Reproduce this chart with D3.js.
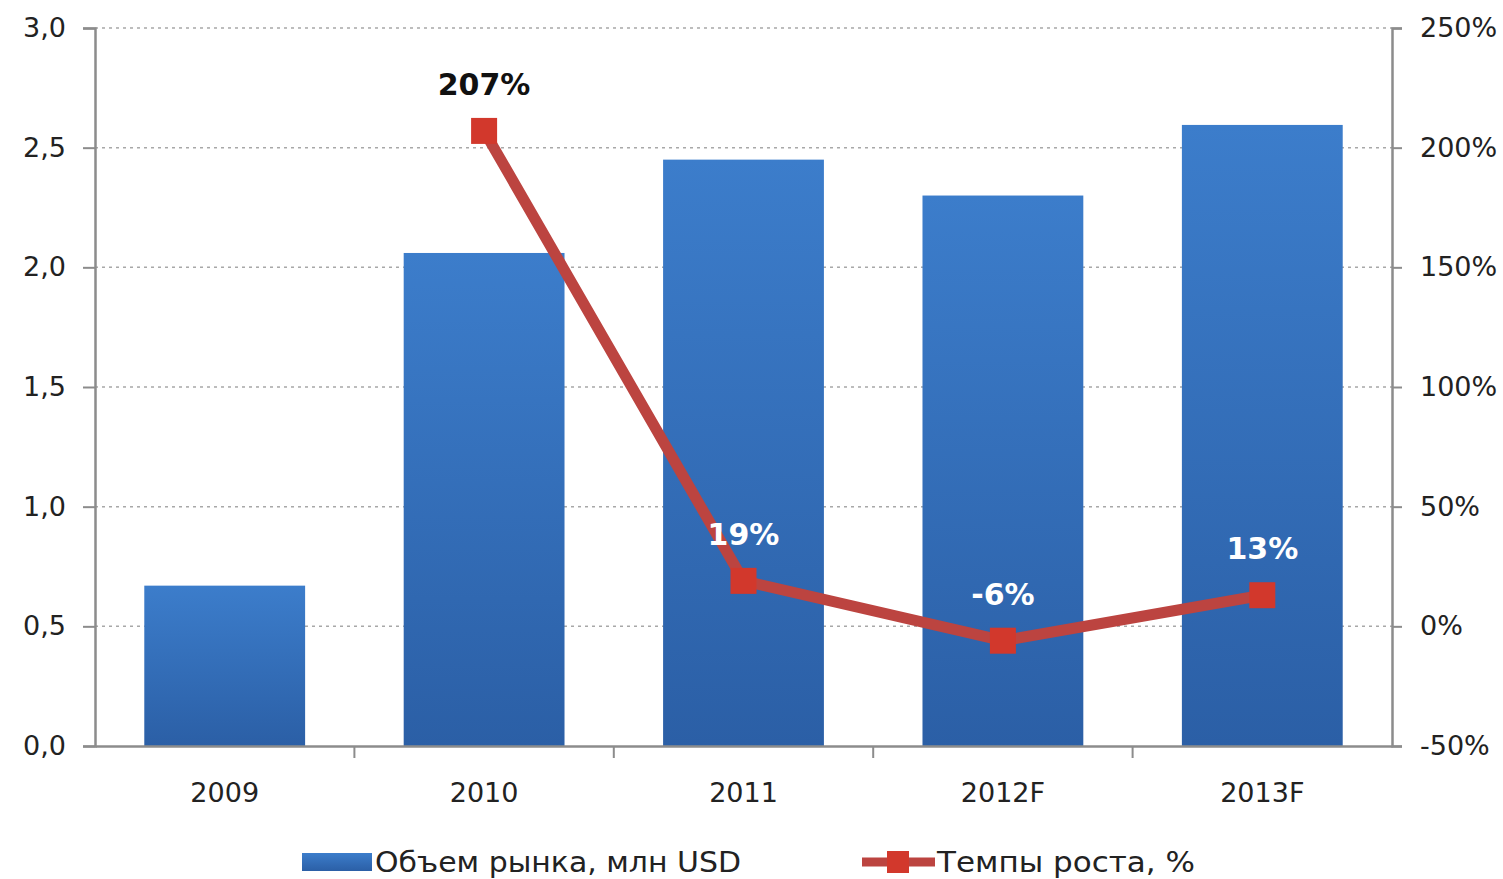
<!DOCTYPE html>
<html>
<head>
<meta charset="utf-8">
<script src="https://cdn.jsdelivr.net/npm/d3@7"></script>
<style>
  body { margin: 0; background: #fff; }
  text { font-family: "DejaVu Sans", Verdana, sans-serif; }
</style>
</head>
<body>
<svg id="chart" width="1503" height="879"></svg>
<script>
'use strict'
// data
const years = ['2009', '2010', '2011', '2012F', '2013F']
const volume = [0.67, 2.06, 2.45, 2.30, 2.595]        // млн USD
const growthYears = ['2010', '2011', '2012F', '2013F']
const growth = [207, 19, -6, 13]                        // %
const leftTicks = [0, 0.5, 1, 1.5, 2, 2.5, 3]
const rightTicks = [-50, 0, 50, 100, 150, 200, 250]
const legendNames = ['Объем рынка, млн USD', 'Темпы роста, %']

const margin = { top: 28, right: 111, bottom: 133, left: 95 },
    W = 1503, H = 879,
    width = W - margin.left - margin.right,
    height = H - margin.top - margin.bottom

const svg = d3.select('#chart')

const defs = svg.append('defs')
const grad = defs.append('linearGradient')
  .attr('id', 'barGrad').attr('x1', 0).attr('y1', 0).attr('x2', 0).attr('y2', 1)
grad.append('stop').attr('offset', '0%').attr('stop-color', '#3c7dcb')
grad.append('stop').attr('offset', '100%').attr('stop-color', '#2b5fa6')

const g = svg.append('g').attr('transform', 'translate(' + [margin.left, margin.top] + ')')

const x = d3.scaleBand().domain(years).range([0, width]).paddingInner(0.38).paddingOuter(0.19)
const xb = d3.scaleBand().domain(years).range([0, width])  // for boundary ticks
const y = d3.scaleLinear().domain([0, 3]).range([height, 0])
const y2 = d3.scaleLinear().domain([-50, 250]).range([height, 0])

// gridlines
g.append('g').selectAll('line')
  .data(leftTicks.filter(d => d > 0))
  .enter().append('line')
  .attr('x1', 0).attr('x2', width)
  .attr('y1', d => y(d)).attr('y2', d => y(d))
  .attr('stroke', '#a8a8a8').attr('stroke-width', 1.5)
  .attr('stroke-dasharray', '3,4')

// bars
g.append('g').selectAll('rect')
  .data(volume)
  .enter().append('rect')
  .attr('x', (d, i) => x(years[i]))
  .attr('y', d => y(d))
  .attr('width', x.bandwidth())
  .attr('height', d => height - y(d))
  .attr('fill', 'url(#barGrad)')

// axes
const axisColor = '#8c8c8c'
const leftAxis = g.append('g')
  .call(d3.axisLeft(y).tickValues(leftTicks).tickSize(12).tickPadding(17)
    .tickFormat(d => d3.format('.1f')(d).replace('.', ',')))
const rightAxis = g.append('g').attr('transform', 'translate(' + width + ',0)')
  .call(d3.axisRight(y2).tickValues(rightTicks).tickSize(10).tickPadding(18)
    .tickFormat(d => d + '%'))
const bottomAxis = g.append('g').attr('transform', 'translate(0,' + height + ')')
  .call(d3.axisBottom(x).tickSize(0).tickPadding(37))

;[leftAxis, rightAxis, bottomAxis].forEach(a => {
  a.select('.domain').attr('stroke', axisColor).attr('stroke-width', 2.5)
  a.selectAll('.tick line').attr('stroke', axisColor).attr('stroke-width', 2)
  a.selectAll('text').attr('font-size', 27).attr('fill', '#222')
})
bottomAxis.selectAll('text').attr('dy', '0.71em')

// category boundary ticks on x axis
g.append('g').selectAll('line')
  .data(years.slice(1))
  .enter().append('line')
  .attr('x1', d => xb(d)).attr('x2', d => xb(d))
  .attr('y1', height).attr('y2', height + 12)
  .attr('stroke', axisColor).attr('stroke-width', 2)

// growth line
const lineColor = '#bc4440'
const cx = d => x(d) + x.bandwidth() / 2
const line = d3.line()
  .x((d, i) => cx(growthYears[i]))
  .y(d => y2(d))
g.append('path')
  .datum(growth)
  .attr('d', line)
  .attr('fill', 'none')
  .attr('stroke', lineColor)
  .attr('stroke-width', 11)
  .attr('stroke-linejoin', 'round')

const mk = 26
g.append('g').selectAll('rect')
  .data(growth)
  .enter().append('rect')
  .attr('x', (d, i) => cx(growthYears[i]) - mk / 2)
  .attr('y', d => y2(d) - mk / 2)
  .attr('width', mk).attr('height', mk)
  .attr('fill', '#d2382c')

// labels
g.append('g').selectAll('text')
  .data(growth)
  .enter().append('text')
  .attr('x', (d, i) => cx(growthYears[i]))
  .attr('y', d => y2(d) - 36)
  .attr('text-anchor', 'middle')
  .attr('font-size', 30)
  .attr('font-weight', 'bold')
  .attr('fill', (d, i) => i === 0 ? '#111' : '#fff')
  .text(d => d + '%')

// legend
const leg = svg.append('g').attr('transform', 'translate(0,862)')
leg.append('rect')
  .attr('x', 302).attr('y', -9).attr('width', 70).attr('height', 18)
  .attr('fill', 'url(#barGrad)')
leg.append('text')
  .attr('x', 375).attr('y', 0).attr('dy', '0.36em')
  .attr('font-size', 28).attr('fill', '#222')
  .attr('textLength', 366).attr('lengthAdjust', 'spacingAndGlyphs')
  .text(legendNames[0])
leg.append('line')
  .attr('x1', 862).attr('x2', 935).attr('y1', 0).attr('y2', 0)
  .attr('stroke', lineColor).attr('stroke-width', 9)
leg.append('rect')
  .attr('x', 887).attr('y', -11).attr('width', 22).attr('height', 22)
  .attr('fill', '#d2382c')
leg.append('text')
  .attr('x', 937).attr('y', 0).attr('dy', '0.36em')
  .attr('font-size', 28).attr('fill', '#222')
  .attr('textLength', 258).attr('lengthAdjust', 'spacingAndGlyphs')
  .text(legendNames[1])
</script>
</body>
</html>
